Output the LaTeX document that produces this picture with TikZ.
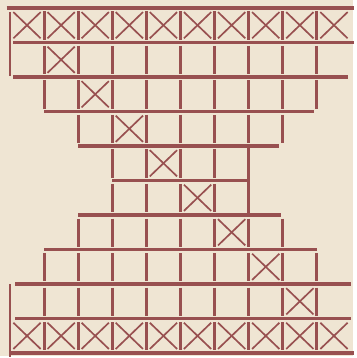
\documentclass[tikz,border=0pt]{standalone}
\usepackage{tikz}
\usetikzlibrary{backgrounds}
\definecolor{paper}{HTML}{EFE5D3}
\definecolor{ink}{HTML}{985050}

\begin{document}
\begin{tikzpicture}[x=1cm,y=1.012cm,
 rule/.style={draw=ink,line width=2.9pt},
 post/.style={draw=ink,line width=2.4pt},
 cross/.style={draw=ink,line width=1.4pt}
]
\fill[paper] (-0.292,0.2305) rectangle (10.058,-10.086);
% horizontal rules: boundary / left / right
\foreach \b/\l/\r in {0/-0.1/10.1,1/0.1/10.1,2/0.1/9.9,3/1/8.9,4/2/7.9,5/3/6.95,6/2/7.95,7/1/9,8/0.15/10,9/0.15/10,10/0/10.1}
  \draw[rule] (\l,-\b) -- (\r,-\b);
% posts in each row
\foreach \y/\l/\r in {0/1/9,1/1/9,2/1/9,3/2/8,4/3/6,5/3/6,6/2/8,7/1/9,8/1/9,9/1/9}
  \foreach \c in {\l,...,\r}
    \draw[post] (\c,-\y-0.1) -- (\c,-\y-0.92);
% long side posts
\draw[post] (0,-0.12) -- (0,-1.98);
\draw[post] (0,-8.0) -- (0,-10.1);
\draw[post] (7,-4.06) -- (7,-6.02);
% crossed cells
\foreach \y/\c in {0/0,0/1,0/2,0/3,0/4,0/5,0/6,0/7,0/8,0/9,1/1,2/2,3/3,4/4,5/5,6/6,7/7,8/8,9/0,9/1,9/2,9/3,9/4,9/5,9/6,9/7,9/8,9/9}{
  \draw[cross] (\c+0.1,-\y-0.12) -- (\c+0.9,-\y-0.88);
  \draw[cross] (\c+0.1,-\y-0.88) -- (\c+0.9,-\y-0.12);
}
\end{tikzpicture}
\end{document}
